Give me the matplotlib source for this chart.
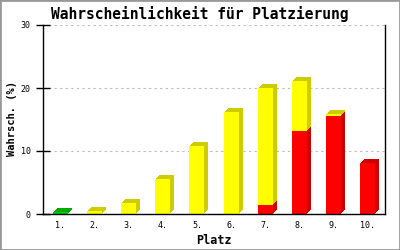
import matplotlib.pyplot as plt
import matplotlib.transforms as mtransforms
from matplotlib.patches import Rectangle

plt.rcParams['font.family'] = 'DejaVu Sans Mono'

# Daten
plaetze = ['1.', '2.', '3.', '4.', '5.', '6.', '7.', '8.', '9.', '10.']
gruen = [0.3, 0, 0, 0, 0, 0, 0, 0, 0, 0]
rot = [0, 0, 0, 0, 0, 0, 1.4, 13.2, 15.6, 8.1]
gelb = [0, 0.4, 1.8, 5.6, 10.8, 16.2, 18.6, 7.9, 0.3, 0]

fig = plt.figure(figsize=(4, 2.5), dpi=100)
ax = fig.add_axes([0.1075, 0.144, 0.855, 0.756])

x = list(range(1, len(plaetze) + 1))
breite = 0.44
unten_gelb = [g + r for g, r in zip(gruen, rot)]

# 3D-Effekt: dunklere Kopien, schrittweise 1..4 px nach rechts oben verschoben
for k in (4, 3, 2, 1):
    tr = ax.transData + mtransforms.ScaledTranslation(k / 100, k / 100, fig.dpi_scale_trans)
    ax.bar(x, gruen, breite, color='#00aa00', transform=tr, zorder=2)
    ax.bar(x, rot, breite, color='#cc0000', transform=tr, zorder=2)
    ax.bar(x, gelb, breite, bottom=unten_gelb, color='#cccc00', transform=tr, zorder=2)
# Vorderseite
ax.bar(x, gruen, breite, color='#00cc00', zorder=3)
ax.bar(x, rot, breite, color='#ff0000', zorder=3)
ax.bar(x, gelb, breite, bottom=unten_gelb, color='#ffff00', zorder=3)

ax.set_xlim(0.5, 10.5)
ax.set_ylim(0, 30)
ax.set_yticks([0, 10, 20, 30])
ax.set_xticks(x)
ax.set_xticklabels(plaetze)
ax.tick_params(axis='x', length=0, labelsize=6, pad=5)
ax.tick_params(axis='y', direction='inout', length=10, width=1, labelsize=6, pad=4)
ax.yaxis.grid(True, linestyle=(0, (2, 3)), color='#bbbbbb', linewidth=0.8, zorder=0)
ax.set_axisbelow(True)
ax.spines['top'].set_visible(False)
for s in ['left', 'right', 'bottom']:
    ax.spines[s].set_linewidth(1)
    ax.spines[s].set_zorder(4)

fig.text(0.5, 1 - 14 / 250, 'Wahrscheinlichkeit für Platzierung', fontsize=10.5,
         fontweight='bold', ha='center', va='center')
fig.text(214 / 400, 1 - 240 / 250, 'Platz', fontsize=8.5, fontweight='bold',
         ha='center', va='center')
fig.text(12 / 400, 1 - 118 / 250, 'Wahrsch. (%)', fontsize=7.5, fontweight='bold',
         ha='center', va='center', rotation=90)

# grauer Rahmen um das Bild
fig.patches.append(Rectangle((0, 0), 1, 1, transform=fig.transFigure, fill=False,
                             edgecolor='#999999', linewidth=2))

fig.savefig('out.png', dpi=100)
